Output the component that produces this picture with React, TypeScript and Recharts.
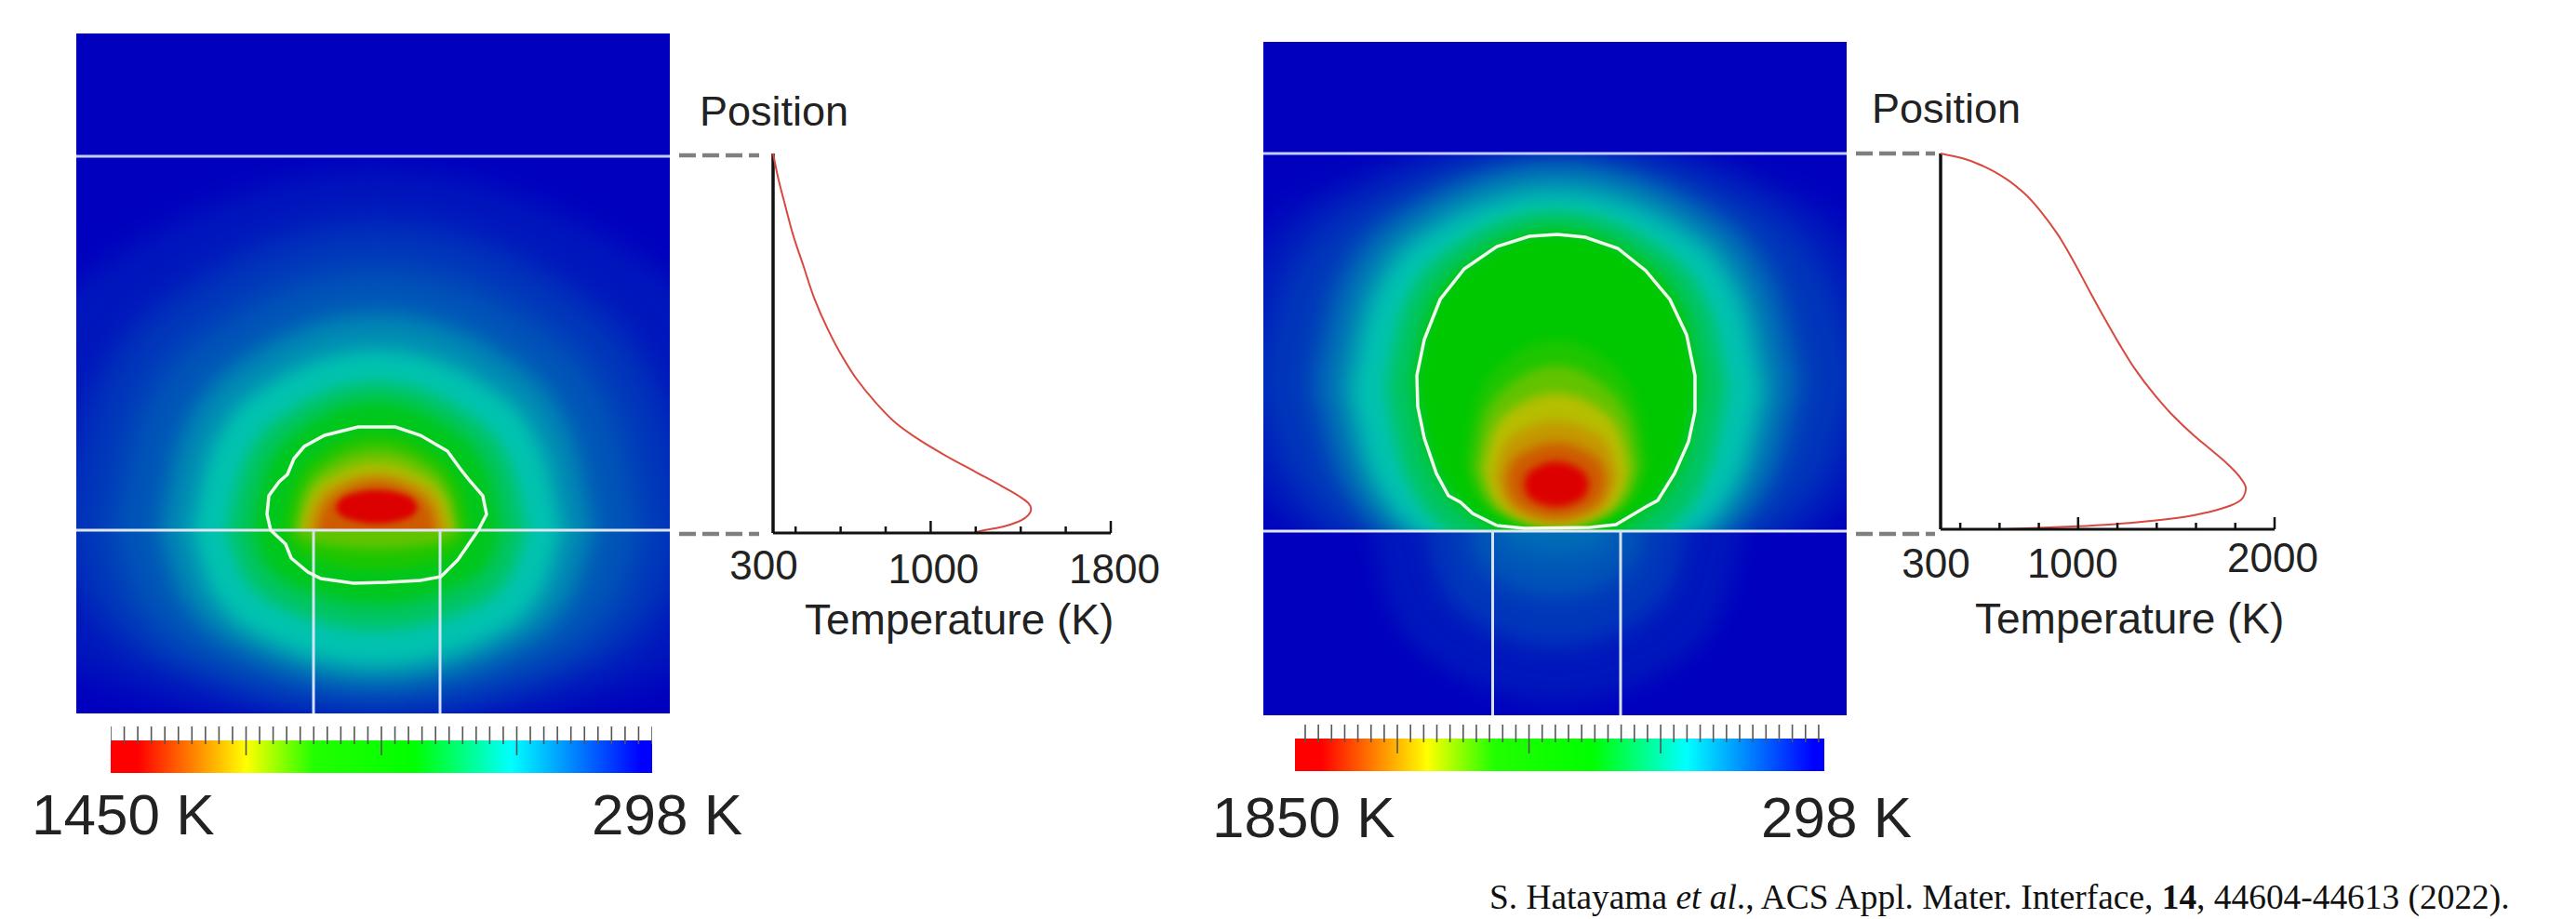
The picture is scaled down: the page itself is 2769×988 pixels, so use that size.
import React from 'react'
import {
  Area,
  AreaChart,
  Bar,
  BarChart,
  Line,
  LineChart,
  ReferenceLine,
  Scatter,
  ScatterChart,
  XAxis,
  YAxis,
} from 'recharts'

// ---- temperature profiles (K against position along the cut, % of the cut) ----
const leftProfileTemp = [300, 322, 352, 388, 433, 484, 543, 609, 668, 757, 845, 948, 1066, 1199, 1317, 1390, 1435, 1446, 1435, 1390, 1317, 1243, 1199]
const leftProfilePos = [100, 93.7, 86.7, 78.7, 70.7, 61.7, 53.7, 46.3, 40.8, 34.3, 29.0, 24.6, 20.4, 16.1, 12.3, 9.8, 7.8, 6.3, 4.8, 3.0, 1.6, 0.8, 0.2]
const rightProfileTemp = [300, 413, 522, 632, 726, 820, 898, 977, 1055, 1134, 1212, 1290, 1384, 1478, 1588, 1682, 1760, 1823, 1854, 1839, 1776, 1666, 1541, 1384, 1196, 999, 800, 617]
const rightProfilePos = [100, 98.7, 96.5, 93.3, 89.4, 83.9, 78.3, 71.3, 63.7, 56.2, 49.1, 42.6, 36.1, 30.5, 25.0, 20.9, 17.4, 13.9, 10.9, 8.4, 6.3, 4.6, 3.3, 2.3, 1.4, 0.8, 0.4, 0]

const leftTempTicks = [400, 600, 800, 1000, 1200, 1400, 1600, 1800]
const rightTempTicks = [400, 600, 800, 1000, 1200, 1400, 1600, 1800, 2000]

// ---- colour bars ----
const leftBarRange = [298, 1450]
const rightBarRange = [298, 1850]
const leftBarTicks = Array.from({ length: 41 }, (_, i) => 1450 - 28.8 * i)
const rightBarTicks = Array.from({ length: 40 }, (_, i) => 1820 - 38.6 * i)
const leftBarLong = [10, 20, 30]
const rightBarLong = [7, 17, 27]

// ---- melt outlines, in nm from the heater centre and the film interface ----
const leftMeltX = [-114, -118, -116, -105, -96, -89, -78, -56, -20, 20, 47, 76, 89, 100, 114, 118, 109, 94, 87, 69, 47, 11, -25, -60, -74, -92, -98, -114]
const leftMeltY = [0, 17, 37, 52, 60, 77, 90, 102, 111, 111, 102, 85, 67, 53, 37, 17, 0, -22, -32, -50, -54, -56, -57, -52, -45, -30, -15, 0]
const rightMeltX = [-64, -90, -103, -116, -129, -142, -149, -150, -142, -125, -99, -64, -29, 1, 31, 66, 96, 122, 140, 149, 149, 142, 127, 109, 96, 64, 36, -34, -64]
const rightMeltY = [6, 19, 31, 38, 62, 100, 134, 167, 206, 249, 282, 306, 317, 319, 316, 304, 280, 249, 211, 167, 129, 96, 62, 33, 26, 7, 4, 3, 6]

// ---- isotherms of the left map ----
const leftLevels = [0.03, 0.07, 0.11, 0.18, 0.25, 0.36, 0.46, 0.54, 0.63, 0.72, 0.8, 0.88]
const leftX = [
  [-440, -396, -264, 0, 264, 396, 440],
  [-340, -306, -204, 0, 204, 306, 340],
  [-285, -257, -171, 0, 171, 257, 285],
  [-232, -209, -139, 0, 139, 209, 232],
  [-198, -178, -119, 0, 119, 178, 198],
  [-160, -144, -96, 0, 96, 144, 160],
  [-134, -121, -80, 0, 80, 121, 134],
  [-100, -90, -60, 0, 60, 90, 100],
  [-88, -79, -53, 0, 53, 79, 88],
  [-82, -74, -49, 0, 49, 74, 82],
  [-76, -68, -46, 0, 46, 68, 76],
  [-64, -58, -38, 0, 38, 58, 64],
]
const leftAboveTop = [
  [0, 166, 304, 385, 304, 166, 0],
  [0, 142, 261, 330, 261, 142, 0],
  [0, 120, 221, 280, 221, 120, 0],
  [0, 101, 185, 232, 185, 101, 0],
  [0, 85, 155, 194, 155, 85, 0],
  [0, 68, 126, 159, 126, 68, 0],
  [0, 60, 110, 139, 110, 60, 0],
  [0, 45, 82, 104, 82, 45, 0],
  [0, 39, 71, 89, 71, 39, 0],
  [0, 33, 59, 74, 59, 33, 0],
  [0, 27, 49, 61, 49, 27, 0],
  [0, 23, 42, 53, 42, 23, 0],
]
const leftCoreX = [-44, -40, -27, 0, 27, 40, 44]
const leftCoreTop = [24, 32, 39, 43, 39, 32, 24]
const leftCoreBottom = [24, 17, 11, 7, 11, 17, 24]
const leftBelowLevels = [0.03, 0.07, 0.11, 0.18, 0.25, 0.36, 0.46, 0.54, 0.63]
const leftBelowBottom = [
  [0, -94, -173, -216, -173, -94, 0],
  [0, -86, -158, -197, -158, -86, 0],
  [0, -79, -145, -181, -145, -79, 0],
  [0, -71, -130, -164, -130, -71, 0],
  [0, -64, -117, -146, -117, -64, 0],
  [0, -47, -86, -107, -86, -47, 0],
  [0, -35, -64, -80, -64, -35, 0],
  [0, -18, -34, -42, -34, -18, 0],
  [0, -9, -16, -20, -16, -9, 0],
]

// ---- isotherms of the right map ----
const rightLevels = [0.03, 0.07, 0.13, 0.19, 0.25, 0.36, 0.46, 0.5, 0.54, 0.63, 0.74, 0.8, 0.88, 1]
const rightX = [
  [-380, -342, -228, 0, 228, 342, 380],
  [-325, -292, -195, 0, 195, 292, 325],
  [-265, -238, -159, 0, 159, 238, 265],
  [-237, -213, -142, 0, 142, 213, 237],
  [-218, -196, -131, 0, 131, 196, 218],
  [-183, -165, -110, 0, 110, 165, 183],
  [-155, -140, -93, 0, 93, 140, 155],
  [-147, -132, -88, 0, 88, 132, 147],
  [-98, -88, -59, 0, 59, 88, 98],
  [-88, -79, -53, 0, 53, 79, 88],
  [-78, -70, -47, 0, 47, 70, 78],
  [-66, -59, -40, 0, 40, 59, 66],
  [-54, -49, -32, 0, 32, 49, 54],
  [-35, -32, -21, 0, 21, 32, 35],
]
const rightTop = [
  [170, 285, 375, 430, 375, 285, 170],
  [165, 275, 362, 412, 362, 275, 165],
  [160, 265, 350, 397, 350, 265, 160],
  [155, 256, 337, 382, 337, 256, 155],
  [150, 245, 322, 362, 322, 245, 150],
  [155, 238, 306, 344, 306, 238, 155],
  [162, 233, 292, 326, 292, 233, 162],
  [158, 227, 284, 316, 284, 227, 158],
  [72, 131, 179, 205, 179, 131, 72],
  [70, 118, 155, 178, 155, 118, 70],
  [65, 101, 131, 148, 131, 101, 65],
  [60, 86, 107, 118, 107, 86, 60],
  [55, 72, 86, 95, 86, 72, 55],
  [50, 60, 69, 75, 69, 60, 50],
]
const rightBottom = [
  [170, 63, -27, -76, -27, 63, 170],
  [165, 64, -20, -66, -20, 64, 165],
  [160, 62, -19, -64, -19, 62, 160],
  [155, 61, -17, -60, -17, 61, 155],
  [150, 63, -10, -50, -10, 63, 150],
  [155, 68, -5, -45, -5, 68, 155],
  [162, 83, 16, -20, 16, 83, 162],
  [158, 86, 25, -8, 25, 86, 158],
  [72, 43, 18, 5, 18, 43, 72],
  [70, 42, 18, 5, 18, 42, 70],
  [65, 39, 17, 5, 17, 39, 65],
  [60, 37, 18, 8, 18, 37, 60],
  [55, 37, 22, 14, 22, 37, 55],
  [50, 40, 31, 26, 31, 40, 50],
]
const rightBelowLevels = [0.03, 0.07, 0.11, 0.14]
const rightBelowX = [
  [-200, -180, -120, 0, 120, 180, 200],
  [-140, -126, -84, 0, 84, 126, 140],
  [-95, -86, -57, 0, 57, 86, 95],
  [-60, -54, -36, 0, 36, 54, 60],
]
const rightBelowBottom = [
  [0, -81, -148, -185, -148, -81, 0],
  [0, -55, -100, -125, -100, -55, 0],
  [0, -31, -56, -70, -56, -31, 0],
  [0, -11, -20, -25, -20, -11, 0],
]

// map colour scale, level 0..1
const mapStops = [
  [0, 0, 0, 190],
  [0.25, 0, 195, 175],
  [0.5, 0, 200, 0],
  [0.75, 190, 190, 0],
  [1, 220, 0, 0],
]
const barStops = [
  [0, '#ff0000'],
  [0.05, '#ff0000'],
  [0.25, '#ffff00'],
  [0.375, '#22ff00'],
  [0.56, '#00ff00'],
  [0.74, '#00ffff'],
  [0.98, '#0000ff'],
  [1, '#0000ff'],
]

const SANS = '"Liberation Sans", Arial, sans-serif'
const BLEED = 60
// room above the map so the top film line is not cut by the chart edge
const HEADROOM = 4

const levelColor = (t: number) => {
  const hi = mapStops.findIndex((s) => s[0] >= t)
  const a = mapStops[Math.max(hi - 1, 0)]
  const b = mapStops[hi]
  const k = b[0] === a[0] ? 0 : (t - a[0]) / (b[0] - a[0])
  const mix = (i: number) => Math.round(a[i] + (b[i] - a[i]) * k)
  return `rgb(${mix(1)},${mix(2)},${mix(3)})`
}

type Band = { level: number; blur: number; rows: { x: number; range: number[] }[] }

const band = (level: number, blur: number, x: number[], top: number[] | number, bottom: number[] | number): Band => ({
  level,
  blur,
  rows: x.map((v, i) => ({
    x: v,
    range: [
      Array.isArray(bottom) ? bottom[i] : bottom,
      Array.isArray(top) ? top[i] : top,
    ],
  })),
})

const blurFor = (level: number) => {
  if (level < 0.12) return 16
  if (level < 0.2) return 12
  if (level < 0.3) return 10
  if (level < 0.5) return 8
  if (level < 0.95) return 6
  return 4
}

const leftAbove = [
  ...leftLevels.map((l, i) => band(l, blurFor(l), leftX[i], leftAboveTop[i], -BLEED)),
  band(1, 3, leftCoreX, leftCoreTop, leftCoreBottom),
]
const leftBelow = leftBelowLevels.map((l, i) => band(l, blurFor(l), leftX[i], BLEED, leftBelowBottom[i]))
const rightAbove = rightLevels.map((l, i) => band(l, blurFor(l), rightX[i], rightTop[i], rightBottom[i]))
const rightBelow = rightBelowLevels.map((l, i) => band(l, 12, rightBelowX[i], BLEED, rightBelowBottom[i]))

const blurCss = [3, 4, 6, 8, 10, 12, 16]
  .map((b) => `.blur-${b} { filter: blur(${b}px); }`)
  .join('\n')

// one stretch of the map between two film interfaces
const HeatLayer = ({ left, top, xDomain, yDomain, bands }: { left: number; top: number; xDomain: number[]; yDomain: number[]; bands: Band[] }) => {
  const w = xDomain[1] - xDomain[0]
  const h = yDomain[1] - yDomain[0]
  return (
    <div style={{ position: 'absolute', left, top, width: w, height: h, overflow: 'hidden', background: 'rgb(0,0,190)' }}>
      <div style={{ position: 'absolute', left: -BLEED, top: -BLEED }}>
        <AreaChart width={w + 2 * BLEED} height={h + 2 * BLEED} margin={{ top: 0, right: 0, bottom: 0, left: 0 }}>
          <XAxis type="number" dataKey="x" hide allowDataOverflow domain={[xDomain[0] - BLEED, xDomain[1] + BLEED]} />
          <YAxis type="number" hide allowDataOverflow domain={[yDomain[0] - BLEED, yDomain[1] + BLEED]} />
          {bands.map((b, i) => (
            <Area
              key={i}
              data={b.rows}
              dataKey="range"
              type="monotone"
              stroke="none"
              fill={levelColor(b.level)}
              fillOpacity={1}
              className={`blur-${b.blur}`}
              dot={false}
              activeDot={false}
              isAnimationActive={false}
            />
          ))}
        </AreaChart>
      </div>
    </div>
  )
}

const zip = (x: number[], y: number[]) => x.map((v, i) => ({ x: v, y: y[i] }))

// white lines and melt outline on top of the map
const MapOverlay = ({ left, top, xDomain, yDomain, topLine, wires, meltX, meltY }: { left: number; top: number; xDomain: number[]; yDomain: number[]; topLine: number; wires: number[]; meltX: number[]; meltY: number[] }) => (
  <div style={{ position: 'absolute', left, top: top - HEADROOM }}>
    <ScatterChart
      width={xDomain[1] - xDomain[0]}
      height={yDomain[1] - yDomain[0] + HEADROOM}
      margin={{ top: 0, right: 0, bottom: 0, left: 0 }}
    >
      <XAxis type="number" dataKey="x" hide domain={xDomain} allowDataOverflow />
      <YAxis type="number" dataKey="y" hide domain={[yDomain[0], yDomain[1] + HEADROOM]} allowDataOverflow />
      <ReferenceLine y={topLine} stroke="#c3cdf8" strokeWidth={3} />
      <ReferenceLine y={0} stroke="#dfe6f6" strokeWidth={3} />
      {wires.map((w) => (
        <Scatter
          key={w}
          data={zip([w, w], [0, yDomain[0]])}
          line={{ stroke: '#d6e2f4', strokeWidth: 3 }}
          shape={() => null}
          isAnimationActive={false}
        />
      ))}
      <Scatter
        data={zip(meltX, meltY)}
        line={{ stroke: '#f2f8ee', strokeWidth: 3.5 }}
        shape={() => null}
        isAnimationActive={false}
      />
    </ScatterChart>
  </div>
)

const ColorBar = ({ id, left, top, width, height, range, ticks, longTicks }: { id: string; left: number; top: number; width: number; height: number; range: number[]; ticks: number[]; longTicks: number[] }) => {
  const tickZone = 15
  const BarTick = (p: any) => {
    const long = longTicks.includes(p.index)
    return <line x1={p.x} x2={p.x} y1={p.y - tickZone} y2={p.y + (long ? 16 : 4)} stroke="#555" strokeWidth={1.6} />
  }
  return (
    <div style={{ position: 'absolute', left, top: top - tickZone }}>
      <BarChart
        layout="vertical"
        width={width}
        height={height + tickZone}
        data={[{ name: 'T', span: range }]}
        barCategoryGap={0}
        margin={{ top: 0, right: 0, bottom: 0, left: 0 }}
      >
        <defs>
          <linearGradient id={id} x1="0" y1="0" x2="1" y2="0">
            {barStops.map((s) => (
              <stop key={s[0]} offset={s[0]} stopColor={s[1] as string} />
            ))}
          </linearGradient>
        </defs>
        <XAxis
          type="number"
          orientation="top"
          reversed
          domain={range}
          ticks={ticks}
          interval={0}
          height={tickZone}
          axisLine={false}
          tickLine={false}
          tickSize={0}
          tickMargin={0}
          tick={BarTick}
        />
        <YAxis type="category" dataKey="name" hide />
        <Bar dataKey="span" fill={`url(#${id})`} isAnimationActive={false} />
      </BarChart>
    </div>
  )
}

const ProfileChart = ({ left, top, width, height, domain, temps, positions, ticks, labels, longTicks }: { left: number; top: number; width: number; height: number; domain: number[]; temps: number[]; positions: number[]; ticks: number[]; labels: { value: number; dx: number; dy: number }[]; longTicks: number[] }) => {
  const pad = 80
  const rows = temps.map((t, i) => ({ temp: t, pos: positions[i] }))
  const allTicks = [domain[0], ...ticks]
  const Tick = (p: any) => {
    const value = p.payload.value
    const lab = labels.find((l) => l.value === value)
    return (
      <g>
        {value !== domain[0] && (
          <line x1={p.x} x2={p.x} y1={p.y} y2={p.y - (longTicks.includes(value) ? 13 : 7)} stroke="#111" strokeWidth={2.5} />
        )}
        {lab && (
          <text x={p.x + lab.dx} y={p.y + lab.dy} textAnchor="middle" fontFamily={SANS} fontSize={44} fill="#222">
            {lab.value}
          </text>
        )}
      </g>
    )
  }
  return (
    <div style={{ position: 'absolute', left: left - pad, top: top - pad }}>
      <LineChart
        layout="vertical"
        width={width + 2 * pad}
        height={height + pad + 70}
        data={rows}
        margin={{ top: pad, right: pad, bottom: 0, left: pad }}
      >
        <XAxis
          type="number"
          dataKey="temp"
          domain={domain}
          ticks={allTicks}
          interval={0}
          height={70}
          axisLine={{ stroke: '#111', strokeWidth: 3 }}
          tickLine={false}
          tickSize={0}
          tickMargin={0}
          tick={Tick}
        />
        <YAxis type="number" dataKey="pos" domain={[0, 100]} hide reversed />
        <ReferenceLine x={domain[0]} stroke="#111" strokeWidth={3.5} />
        <Line
          dataKey="temp"
          type="monotone"
          stroke="#d8493f"
          strokeWidth={2}
          dot={false}
          isAnimationActive={false}
        />
      </LineChart>
    </div>
  )
}

const DASH = { stroke: '#7f7f7f', strokeWidth: 4.5, strokeDasharray: '18 7 18 7 18 7 18 7 3 0' }

export default function App() {
  const leftXDomain = [-323, 315]
  const rightXDomain = [-315, 312]
  return (
    <div style={{ position: 'absolute', left: 0, top: 0, width: 2769, height: 988, background: '#fff', overflow: 'hidden' }}>
      <style>{blurCss}</style>

      {/* left map */}
      <div style={{ position: 'absolute', left: 82, top: 36, width: 638, height: 134, background: 'rgb(0,0,190)' }} />
      <HeatLayer left={82} top={168} xDomain={leftXDomain} yDomain={[0, 402]} bands={leftAbove} />
      <HeatLayer left={82} top={570} xDomain={leftXDomain} yDomain={[-197, 0]} bands={leftBelow} />
      <MapOverlay left={82} top={168} xDomain={leftXDomain} yDomain={[-197, 402]} topLine={402} wires={[-68, 68]} meltX={leftMeltX} meltY={leftMeltY} />
      <ColorBar id="leftBar" left={119} top={796} width={582} height={35} range={leftBarRange} ticks={leftBarTicks} longTicks={leftBarLong} />

      {/* right map */}
      <div style={{ position: 'absolute', left: 1358, top: 45, width: 627, height: 122, background: 'rgb(0,0,190)' }} />
      <HeatLayer left={1358} top={165} xDomain={rightXDomain} yDomain={[0, 406]} bands={rightAbove} />
      <HeatLayer left={1358} top={571} xDomain={rightXDomain} yDomain={[-198, 0]} bands={rightBelow} />
      <MapOverlay left={1358} top={165} xDomain={rightXDomain} yDomain={[-198, 406]} topLine={406} wires={[-68.5, 69]} meltX={rightMeltX} meltY={rightMeltY} />
      <ColorBar id="rightBar" left={1392} top={794} width={569} height={35} range={rightBarRange} ticks={rightBarTicks} longTicks={rightBarLong} />

      {/* profiles */}
      <ProfileChart
        left={831}
        top={165}
        width={363}
        height={408}
        domain={[300, 1800]}
        temps={leftProfileTemp}
        positions={leftProfilePos}
        ticks={leftTempTicks}
        labels={[{ value: 300, dx: -10, dy: 50 }, { value: 1000, dx: 3, dy: 54 }, { value: 1800, dx: 4, dy: 54 }]}
        longTicks={[1000, 1800]}
      />
      <ProfileChart
        left={2086}
        top={165}
        width={359}
        height={404}
        domain={[300, 2000]}
        temps={rightProfileTemp}
        positions={rightProfilePos}
        ticks={rightTempTicks}
        labels={[{ value: 300, dx: -5, dy: 52 }, { value: 1000, dx: -6, dy: 52 }, { value: 2000, dx: -2, dy: 46 }]}
        longTicks={[1000, 2000]}
      />

      <svg width={2769} height={988} style={{ position: 'absolute', left: 0, top: 0, pointerEvents: 'none' }}>
        <line x1={730} x2={816} y1={167} y2={167} {...DASH} />
        <line x1={730} x2={816} y1={574} y2={574} {...DASH} />
        <line x1={1995} x2={2080} y1={165} y2={165} {...DASH} />
        <line x1={1995} x2={2080} y1={574} y2={574} {...DASH} />
        <g fontFamily={SANS} fill="#222">
          <text x={752} y={135} fontSize={45}>Position</text>
          <text x={2012} y={132} fontSize={45}>Position</text>
          <text x={865} y={682} fontSize={46}>Temperature (K)</text>
          <text x={2123} y={681} fontSize={46}>Temperature (K)</text>
          <text x={34} y={897} fontSize={62}>1450 K</text>
          <text x={636} y={897} fontSize={62}>298 K</text>
          <text x={1303} y={900} fontSize={62}>1850 K</text>
          <text x={1893} y={900} fontSize={62}>298 K</text>
        </g>
        <text x={1601} y={977} fontFamily='"Liberation Serif", serif' fontSize={37.4} fill="#111">
          S. Hatayama <tspan fontStyle="italic">et al</tspan>., ACS Appl. Mater. Interface, <tspan fontWeight="bold">14</tspan>, 44604-44613 (2022).
        </text>
      </svg>
    </div>
  )
}
